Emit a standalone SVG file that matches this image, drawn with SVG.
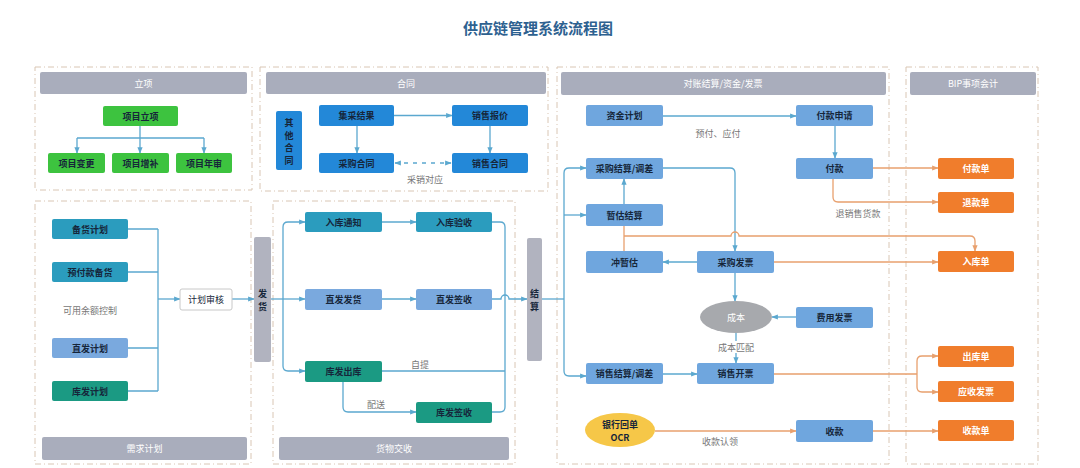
<svg xmlns="http://www.w3.org/2000/svg" width="1080" height="468" viewBox="0 0 1080 468">
<style>
text{font-family:"Noto Sans CJK SC","Liberation Sans",sans-serif;}
.panel{fill:#fff;stroke:#d9c6b4;stroke-width:1;stroke-dasharray:6 3 1 3;}
.hdr{fill:#a9adbc;}
.hdrt{fill:#fff;font-size:9px;text-anchor:middle;dominant-baseline:central;}
.n{stroke:none;}
.t{fill:#16263a;font-size:9px;font-weight:bold;text-anchor:middle;dominant-baseline:central;}
.tw{fill:#fff;font-size:9px;font-weight:bold;text-anchor:middle;dominant-baseline:central;}
.nw{font-weight:normal;}
.green{fill:#3dc33f;}
.tb{fill:#2b9cbe;}
.lb{fill:#7aa9de;}
.tg{fill:#1b9a83;}
.cb{fill:#2388d8;}
.sb{fill:#6fa6de;}
.or{fill:#f07d2c;}
.bar{fill:#b1b3bf;}
.lbl{fill:#777;font-size:9px;text-anchor:middle;dominant-baseline:central;}
.cl{fill:none;stroke:#5ba8cf;stroke-width:1.3;}
.co{fill:none;stroke:#e8a06e;stroke-width:1.3;}
.ab{marker-end:url(#ab);}
.ao{marker-end:url(#ao);}
</style>
<defs>
<marker id="ab" viewBox="0 0 10 10" refX="9" refY="5" markerWidth="5" markerHeight="5" orient="auto-start-reverse"><path d="M0,1 L10,5 L0,9 z" fill="#5ba8cf"/></marker>
<marker id="ao" viewBox="0 0 10 10" refX="9" refY="5" markerWidth="5" markerHeight="5" orient="auto-start-reverse"><path d="M0,1 L10,5 L0,9 z" fill="#e8a06e"/></marker>
</defs>
<rect width="1080" height="468" fill="#fff"/>
<text x="538" y="27" font-size="15" font-weight="bold" fill="#2d6190" text-anchor="middle" dominant-baseline="central">供应链管理系统流程图</text>

<g id="panels">
<rect class="panel" x="35" y="67" width="217" height="123"/>
<rect class="hdr" x="40" y="72" width="207" height="22" rx="2"/>
<text class="hdrt" x="143.5" y="83">立项</text>
<rect class="panel" x="260" y="67" width="288" height="124"/>
<rect class="hdr" x="266" y="72" width="280" height="22" rx="2"/>
<text class="hdrt" x="406" y="83">合同</text>
<rect class="panel" x="557" y="67" width="332" height="397"/>
<rect class="hdr" x="561" y="72" width="325" height="23" rx="2"/>
<text class="hdrt" x="723" y="83.5">对账结算/资金/发票</text>
<rect class="panel" x="906" y="67" width="132" height="397"/>
<rect class="hdr" x="910" y="72" width="126" height="23" rx="2"/>
<text class="hdrt" x="973" y="83.5">BIP事项会计</text>
<rect class="panel" x="35" y="201" width="216" height="263"/>
<rect class="hdr" x="42" y="437" width="205" height="23" rx="2"/>
<text class="hdrt" x="144.5" y="448.5">需求计划</text>
<rect class="panel" x="273" y="201" width="242" height="263"/>
<rect class="hdr" x="279" y="437" width="230" height="23" rx="2"/>
<text class="hdrt" x="394" y="448.5">货物交收</text>
</g>

<g id="connectors">
<path class="cl" d="M140,126 V138 M77,138 H204"/>
<path class="cl ab" d="M77,138 V153"/>
<path class="cl ab" d="M140,138 V153"/>
<path class="cl ab" d="M204,138 V153"/>
<path class="cl ab" d="M394,115.5 H452"/>
<path class="cl ab" d="M357,126 V153"/>
<path class="cl ab" d="M490,126 V153"/>
<path class="cl ab" d="M395,163 H451" stroke-dasharray="4 5" marker-start="url(#ab)"/>
<path class="cl" d="M128,229 H158 M128,272 H158 M128,348 H158 M128,391 H158 M158,229 V391"/>
<path class="cl ab" d="M158,299 H180"/>
<path class="cl ab" d="M232,299 H254"/>
<path class="cl" d="M271,299 H283"/>
<path class="cl ab" d="M283,299 V227 Q283,222 288,222 H305"/>
<path class="cl ab" d="M283,299 V366 Q283,371 288,371 H305"/>
<path class="cl ab" d="M283,299 H305"/>
<path class="cl ab" d="M382,222 H416"/>
<path class="cl ab" d="M382,299 H416"/>
<path class="cl ab" d="M343,382 V407 Q343,412 348,412 H416"/>
<path class="cl" d="M492,222 H500 Q505,222 505,227 V407 Q505,412 500,412 H492 M382,371 H505"/>
<path class="cl ab" d="M492,299 H501 A4,4 0 0 1 509,299 H527"/>
<path class="cl" d="M542,299 H564"/>
<path class="cl ab" d="M564,299 V173 Q564,168 569,168 H586"/>
<path class="cl ab" d="M564,299 V371 Q564,376 569,376 H586"/>
<path class="cl ab" d="M564,215 H586"/>
<path class="cl ab" d="M663,116 H796"/>
<path class="cl ab" d="M835,126 V158"/>
<path class="cl ab" d="M624,204 V179"/>
<path class="cl ab" d="M663,168 H730 Q735,168 735,173 V251"/>
<path class="co" d="M624,226 V251"/>
<path class="co ao" d="M624,236 H731 A4,4 0 0 1 739,236 H970 Q975,236 975,241 V251"/>
<path class="cl ab" d="M697,262 H663"/>
<path class="co ao" d="M774,262 H938"/>
<path class="cl ab" d="M735,273 V301"/>
<path class="cl ab" d="M796,317 H772"/>
<path class="cl ab" d="M736,333 V363"/>
<path class="cl ab" d="M663,374 H697"/>
<path class="co" d="M774,374 H917 M917,361 V387"/>
<path class="co ao" d="M917,361 Q917,356 922,356 H938"/>
<path class="co ao" d="M917,387 Q917,392 922,392 H938"/>
<path class="co ao" d="M873,168 H938"/>
<path class="co ao" d="M833,179 V197 Q833,202 838,202 H938"/>
<path class="co ao" d="M655,431 H796"/>
<path class="co ao" d="M873,431 H938"/>
</g>

<g id="labels">
<text class="lbl" x="425" y="179">采销对应</text>
<text class="lbl" x="90" y="310">可用余额控制</text>
<text class="lbl" x="420" y="364">自提</text>
<text class="lbl" x="376" y="404">配送</text>
<text class="lbl" x="718" y="133">预付、应付</text>
<text class="lbl" x="858" y="213">退销售货款</text>
<rect x="712" y="341" width="48" height="12" fill="#fff"/>
<text class="lbl" x="736" y="347">成本匹配</text>
<text class="lbl" x="720" y="441">收款认领</text>
</g>

<g id="n-xmlx"><rect class="n green" x="103" y="106" width="75" height="20" rx="2"/><text class="t" x="140.5" y="116">项目立项</text></g>
<g id="n-xmbg"><rect class="n green" x="48" y="153" width="57" height="20" rx="2"/><text class="t" x="76.5" y="163">项目变更</text></g>
<g id="n-xmzb"><rect class="n green" x="112" y="153" width="57" height="20" rx="2"/><text class="t" x="140.5" y="163">项目增补</text></g>
<g id="n-xmns"><rect class="n green" x="176" y="153" width="56" height="20" rx="2"/><text class="t" x="204" y="163">项目年审</text></g>

<g id="n-qtht"><rect class="n cb" x="276" y="111" width="26" height="59" rx="2"/><text class="t" x="289"><tspan x="289" y="122">其</tspan><tspan x="289" y="134.5">他</tspan><tspan x="289" y="147">合</tspan><tspan x="289" y="159.5">同</tspan></text></g>
<g id="n-jcjg"><rect class="n cb" x="319" y="105" width="75" height="21" rx="2"/><text class="t" x="356.5" y="115.5">集采结果</text></g>
<g id="n-xsbj"><rect class="n cb" x="452" y="105" width="76" height="21" rx="2"/><text class="t" x="490" y="115.5">销售报价</text></g>
<g id="n-cght"><rect class="n cb" x="319" y="153" width="75" height="20" rx="2"/><text class="t" x="356.5" y="163">采购合同</text></g>
<g id="n-xsht"><rect class="n cb" x="452" y="153" width="76" height="20" rx="2"/><text class="t" x="490" y="163">销售合同</text></g>

<g id="n-bhjh"><rect class="n tb" x="52" y="219" width="76" height="20" rx="2"/><text class="t" x="90" y="229">备货计划</text></g>
<g id="n-yfkbh"><rect class="n tb" x="52" y="262" width="76" height="20" rx="2"/><text class="t" x="90" y="272">预付款备货</text></g>
<g id="n-zfjh"><rect class="n lb" x="52" y="338" width="76" height="20" rx="2"/><text class="t" x="90" y="348">直发计划</text></g>
<g id="n-kfjh"><rect class="n tg" x="52" y="381" width="76" height="20" rx="2"/><text class="t" x="90" y="391">库发计划</text></g>
<g id="n-jhsh"><rect x="180" y="289" width="52" height="21" rx="2" fill="#fff" stroke="#c8c8c8" stroke-width="1"/><text class="t nw" x="206" y="299.5">计划审核</text></g>
<g id="n-fh"><rect class="n bar" x="254" y="237" width="17" height="125" rx="2"/><text class="t" x="262.5"><tspan x="262.5" y="293">发</tspan><tspan x="262.5" y="306">货</tspan></text></g>

<g id="n-rktz"><rect class="n tb" x="305" y="212" width="77" height="20" rx="2"/><text class="t" x="343.5" y="222">入库通知</text></g>
<g id="n-rkys"><rect class="n tb" x="416" y="212" width="76" height="20" rx="2"/><text class="t" x="454" y="222">入库验收</text></g>
<g id="n-zffh"><rect class="n lb" x="305" y="289" width="77" height="21" rx="2"/><text class="t" x="343.5" y="299.5">直发发货</text></g>
<g id="n-zfqs"><rect class="n lb" x="416" y="289" width="76" height="21" rx="2"/><text class="t" x="454" y="299.5">直发签收</text></g>
<g id="n-kfck"><rect class="n tg" x="305" y="361" width="77" height="21" rx="2"/><text class="t" x="343.5" y="371.5">库发出库</text></g>
<g id="n-kfqs"><rect class="n tg" x="416" y="402" width="76" height="21" rx="2"/><text class="t" x="454" y="412.5">库发签收</text></g>
<g id="n-js"><rect class="n bar" x="527" y="238" width="15" height="123" rx="2"/><text class="t" x="534.5"><tspan x="534.5" y="293">结</tspan><tspan x="534.5" y="306">算</tspan></text></g>

<g id="n-zjjh"><rect class="n sb" x="586" y="105" width="77" height="21" rx="2"/><text class="t" x="624.5" y="115.5">资金计划</text></g>
<g id="n-fksq"><rect class="n sb" x="796" y="105" width="77" height="21" rx="2"/><text class="t" x="834.5" y="115.5">付款申请</text></g>
<g id="n-cgjs"><rect class="n sb" x="586" y="158" width="77" height="21" rx="2"/><text class="t" x="624.5" y="168.5">采购结算/调差</text></g>
<g id="n-fk"><rect class="n sb" x="796" y="158" width="77" height="21" rx="2"/><text class="t" x="834.5" y="168.5">付款</text></g>
<g id="n-zgjs"><rect class="n sb" x="586" y="204" width="77" height="22" rx="2"/><text class="t" x="624.5" y="215">暂估结算</text></g>
<g id="n-czg"><rect class="n sb" x="586" y="251" width="77" height="22" rx="2"/><text class="t" x="624.5" y="262">冲暂估</text></g>
<g id="n-cgfp"><rect class="n sb" x="697" y="251" width="77" height="22" rx="2"/><text class="t" x="735.5" y="262">采购发票</text></g>
<g id="n-cb"><ellipse cx="736" cy="317" rx="36" ry="16" fill="#a7a9ad"/><text class="tw nw" x="736" y="317">成本</text></g>
<g id="n-fyfp"><rect class="n sb" x="796" y="307" width="77" height="21" rx="2"/><text class="t" x="834.5" y="317.5">费用发票</text></g>
<g id="n-xsjs"><rect class="n sb" x="586" y="363" width="77" height="21" rx="2"/><text class="t" x="624.5" y="373.5">销售结算/调差</text></g>
<g id="n-xskp"><rect class="n sb" x="697" y="363" width="77" height="21" rx="2"/><text class="t" x="735.5" y="373.5">销售开票</text></g>
<g id="n-yhhd"><ellipse cx="620" cy="430" rx="35" ry="17" fill="#f6c748"/><text class="t" x="620"><tspan x="620" y="424">银行回单</tspan><tspan x="620" y="437">OCR</tspan></text></g>
<g id="n-sk"><rect class="n sb" x="796" y="420" width="77" height="22" rx="2"/><text class="t" x="834.5" y="431">收款</text></g>

<g id="n-fkd"><rect class="n or" x="938" y="158" width="76" height="21" rx="2"/><text class="tw" x="976" y="168.5">付款单</text></g>
<g id="n-tkd"><rect class="n or" x="938" y="192" width="76" height="21" rx="2"/><text class="tw" x="976" y="202.5">退款单</text></g>
<g id="n-rkd"><rect class="n or" x="938" y="251" width="76" height="21" rx="2"/><text class="tw" x="976" y="261.5">入库单</text></g>
<g id="n-ckd"><rect class="n or" x="938" y="346" width="76" height="21" rx="2"/><text class="tw" x="976" y="356.5">出库单</text></g>
<g id="n-ysfp"><rect class="n or" x="938" y="381" width="76" height="21" rx="2"/><text class="tw" x="976" y="391.5">应收发票</text></g>
<g id="n-skd"><rect class="n or" x="938" y="420" width="76" height="21" rx="2"/><text class="tw" x="976" y="430.5">收款单</text></g>
</svg>
